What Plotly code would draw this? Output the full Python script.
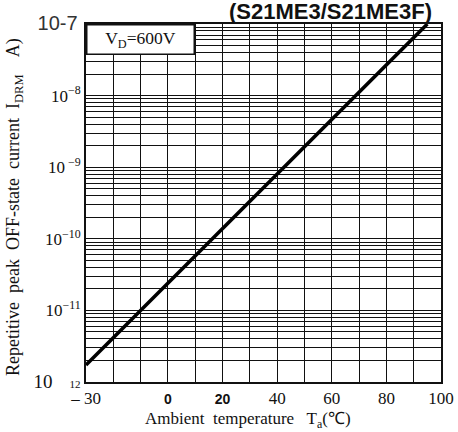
import plotly.graph_objects as go

# Off-state leakage current versus ambient temperature (V_D = 600 V)
temps = [-30, -20, -10, 0, 10, 20, 30, 40, 50, 60, 70, 80, 90, 95]
idrm = [1.73e-12, 4.15e-12, 1.0e-11, 2.4e-11, 5.75e-11, 1.39e-10, 3.33e-10,
        8.0e-10, 1.93e-9, 4.6e-9, 1.11e-8, 2.68e-8, 6.4e-8, 1.0e-7]

x_ticks = list(range(-30, 101, 10))
SANS_B = '<span style="font-family:Arial;font-size:14px"><b>{}</b></span>'
x_labels = ["– 30", "", "", SANS_B.format("0"), "", SANS_B.format("20"), "",
            "40", "", "60", "", "80", "", "100"]

decades = [-12, -11, -10, -9, -8, -7]
NB = "&nbsp;"
decade_labels = [
    '<span style="font-size:19px">10</span>' + NB * 4
    + '<span style="font-size:11px">12</span>',
    "10<sup>−11</sup>",
    "10<sup>−10</sup>",
    "10<sup> −9</sup>",
    "10<sup>−8</sup>",
    '<span style="font-family:Arial;font-size:20px;color:#333">10-7</span>'
    '<span style="font-size:12px">' + NB + '</span>',
]

# log-paper grid: every 1..9 step inside each decade, labels only on decades
y_ticks, y_labels = [], []
for d, lab in zip(decades, decade_labels):
    steps = range(1, 10) if d < -7 else [1]
    for m in steps:
        y_ticks.append(m * 10.0 ** d)
        y_labels.append(lab if m == 1 else "")

SERIF = "Liberation Serif"

fig = go.Figure()
fig.add_trace(go.Scatter(
    x=temps, y=idrm, mode="lines",
    line=dict(color="black", width=3.6),
    hoverinfo="skip", showlegend=False,
))

fig.update_layout(
    width=458, height=432,
    margin=dict(l=86, r=17, t=24, b=50),
    paper_bgcolor="white", plot_bgcolor="white",
    font=dict(family=SERIF, size=16, color="#111"),
    showlegend=False,
    xaxis=dict(
        range=[-30, 100], tickvals=x_ticks, ticktext=x_labels,
        showgrid=True, gridcolor="#111", gridwidth=1.4,
        showline=True, linecolor="#111", linewidth=2, mirror=True,
        ticks="", zeroline=False, automargin=False,
        tickfont=dict(family=SERIF, size=17),
    ),
    yaxis=dict(
        type="log", range=[-12, -7], tickvals=y_ticks, ticktext=y_labels,
        showgrid=True, gridcolor="#111", gridwidth=1.2,
        showline=True, linecolor="#111", linewidth=2, mirror=True,
        ticks="", zeroline=False, automargin=False,
        tickfont=dict(family=SERIF, size=17),
    ),
    annotations=[
        dict(text="V<sub>D</sub>=600V", xref="paper", yref="paper",
             x=0.0, y=1.0, xanchor="left", yanchor="top",
             showarrow=False, bgcolor="white", bordercolor="#111", borderwidth=1.5,
             borderpad=4, width=98, height=20,
             font=dict(family=SERIF, size=17.5, color="#111")),
        dict(text="<b>(S21ME3/S21ME3F)</b>", xref="paper", yref="paper",
             x=0.69, y=1.036, xanchor="center", yanchor="middle",
             showarrow=False, font=dict(family="Arial", size=22, color="#111")),
        dict(text="Ambient  temperature   T<sub>a</sub>(℃)", xref="paper", yref="paper",
             x=0.456, y=-0.105, xanchor="center", yanchor="middle",
             showarrow=False, font=dict(family=SERIF, size=17, color="#111")),
        dict(text="Repetitive  peak  OFF-state  current  I<sub>DRM</sub>    A)",
             xref="paper", yref="paper", x=-0.2, y=0.489, textangle=-90,
             xanchor="center", yanchor="middle", showarrow=False,
             font=dict(family=SERIF, size=18, color="#111")),
    ],
)

fig.write_html("out.html")
